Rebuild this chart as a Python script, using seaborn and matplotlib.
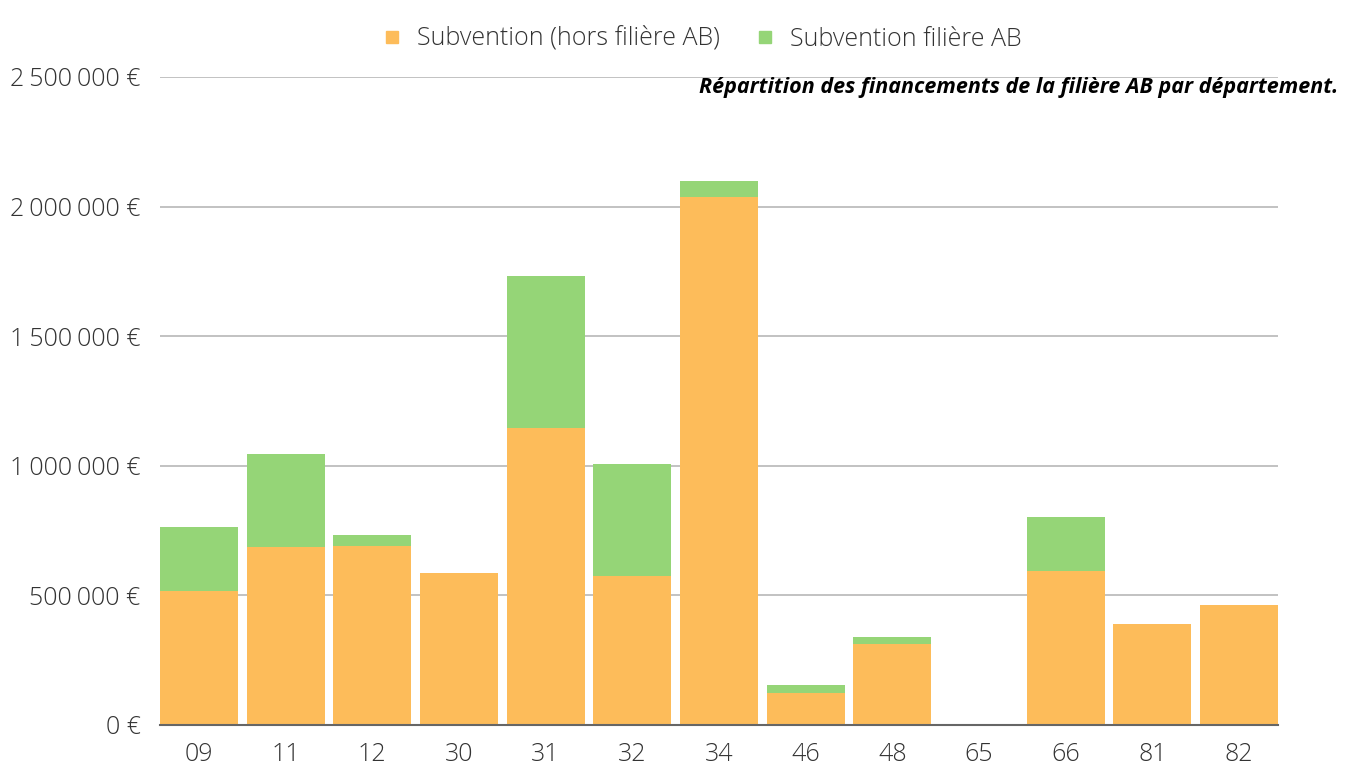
import numpy as np
import pandas as pd
import matplotlib.pyplot as plt
import seaborn as sns
from matplotlib.lines import Line2D
from matplotlib.ticker import FuncFormatter

# ------------- data -------------
departements = ['09', '11', '12', '30', '31', '32', '34', '46', '48', '65', '66', '81', '82']
hors_ab = [517000, 687000, 691000, 586000, 1146000, 575000, 2037000, 123000, 312000, 0, 594000, 390000, 463000]
filiere_ab = [247000, 359000, 42000, 0, 586000, 432000, 62000, 31000, 28000, 0, 208000, 0, 0]

orange = '#FDBC5A'
green = '#95D577'
txt = '#333333'

df = pd.DataFrame({'dep': departements, 'hors': hors_ab, 'ab': filiere_ab})
df['total'] = df['hors'] + df['ab']

sns.set_theme(style='white')
plt.rcParams['font.family'] = ['Open Sans', 'DejaVu Sans']

fig = plt.figure(figsize=(13.51, 7.65), dpi=100)
ax = fig.add_axes([160/1351, 1-725/765, (1278-160)/1351, (725-77)/765])

# stacked bars: total (green) behind, then the orange part
sns.barplot(data=df, x='dep', y='total', color=green, saturation=1, width=0.9, ax=ax,
            linewidth=0, edgecolor='none', zorder=2)
sns.barplot(data=df, x='dep', y='hors', color=orange, saturation=1, width=0.9, ax=ax,
            linewidth=0, edgecolor='none', zorder=3)

ax.set_ylim(0, 2500000)
ax.set_xlim(-0.45, len(departements)-0.55)
ax.set_yticks(np.arange(0, 2500001, 500000))

def euro(v, pos):
    s = '{:,.0f}'.format(v).replace(',', '\u2009')
    return s + ' €'

ax.yaxis.set_major_formatter(FuncFormatter(euro))
ax.grid(axis='y', color='#bdbdbd', linewidth=1.3, zorder=0)
ax.set_axisbelow(True)
for s in ['top', 'right', 'left']:
    ax.spines[s].set_visible(False)
ax.spines['bottom'].set_color('#666666')
ax.spines['bottom'].set_linewidth(1.5)
ax.spines['bottom'].set_zorder(5)
ax.set_xlabel('')
ax.set_ylabel('')
ax.tick_params(axis='both', length=0, labelsize=18, colors=txt)
ax.tick_params(axis='y', pad=14)
ax.tick_params(axis='x', pad=12)
for lab in ax.get_xticklabels() + ax.get_yticklabels():
    lab.set_fontweight('light')

handles = [Line2D([], [], marker='s', linestyle='', color=orange, markersize=9),
           Line2D([], [], marker='s', linestyle='', color=green, markersize=9)]
leg = fig.legend(handles, ['Subvention (hors filière AB)', 'Subvention filière AB'],
                 loc='center', bbox_to_anchor=(0.514, 1-39/765), ncol=2, frameon=False,
                 fontsize=18, handletextpad=0.0, columnspacing=0.8)
for t in leg.get_texts():
    t.set_color(txt)
    t.set_fontweight('light')

fig.text(1338/1351, 1-87/765, 'Répartition des financements de la filière AB par département.',
         ha='right', va='center', fontsize=15.5, fontweight='bold', fontstyle='italic', color='black')

fig.savefig('out.png', dpi=100)
